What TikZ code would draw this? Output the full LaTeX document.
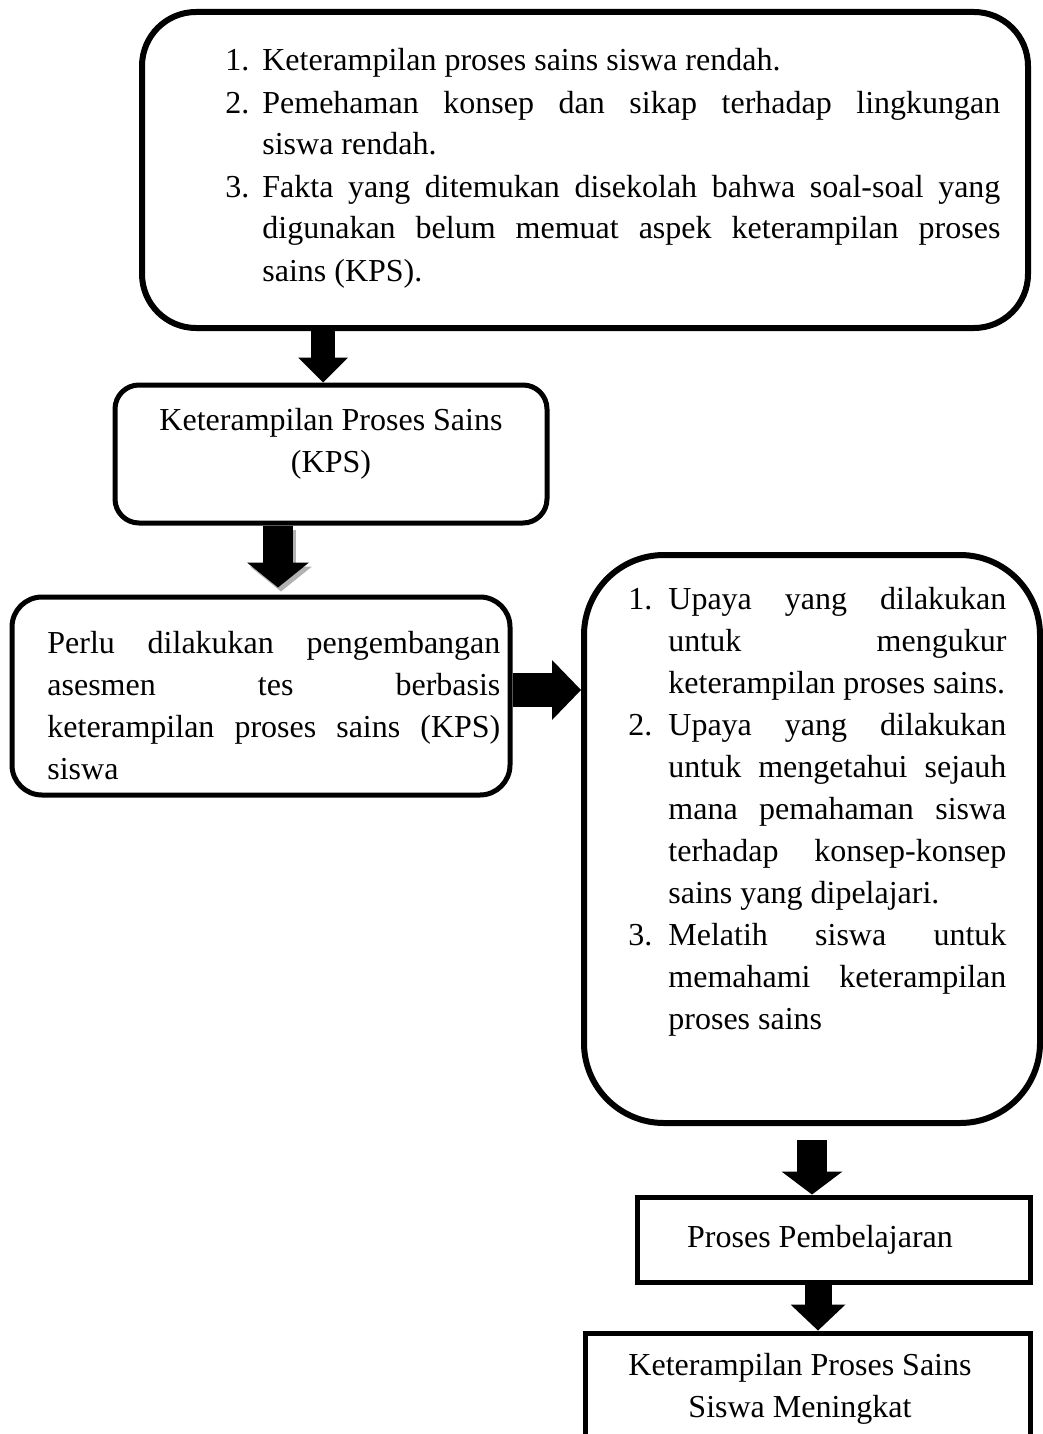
\documentclass[tikz,border=0pt]{standalone}
\usepackage{fontspec}
\setmainfont{Liberation Serif}
\usetikzlibrary{arrows.meta,calc}
\tolerance=10000
\hyphenpenalty=10000
\exhyphenpenalty=10000
\newcommand{\numitem}[3][20pt]{\hangindent=#1\hangafter=1\noindent\makebox[#1][l]{#2}#3\par}

\begin{document}
\begin{tikzpicture}[x=0.5pt, y=-0.5pt,
  frame/.style={draw, line width=2.5pt, inner sep=0pt},
  sized/.style 2 args={minimum width=#1, minimum height=#2},
  txt/.style={inner sep=0pt, align=justify, font=\fontsize{16pt}{21pt}\selectfont},
  fat/.style n args={3}{line width=#1, -{Triangle[width=#2, length=#3, line width=0pt]}}]
\useasboundingbox (0,0) rectangle (1043,1434);
\clip (0,0) rectangle (1043,1434);
\node[frame, sized={443pt}{158pt}, rounded corners=27pt, line width=3pt] (masalah) at (585,170) {};
\node[frame, sized={216pt}{69pt}, rounded corners=12pt] (kps) at (331,454) {};
\node[frame, sized={249pt}{99pt}, rounded corners=15pt] (perlu) at (261,696) {};
\node[frame, sized={228pt}{284pt}, rounded corners=40pt, line width=3pt] (upaya) at (812,839) {};
\node[frame, sized={196.5pt}{42.5pt}] (proses) at (833.5,1239.5) {};
\node[frame, sized={222.5pt}{71pt}] (meningkat) at (807.5,1404) {};
\node[txt, text width=387.5pt, anchor=base west] (masalah-t) at (225,71) {%
\numitem[18.5pt]{1.}{Keterampilan proses sains siswa rendah.}
\numitem[18.5pt]{2.}{Pemehaman konsep dan sikap terhadap lingkungan\linebreak siswa rendah.}
\numitem[18.5pt]{3.}{Fakta yang ditemukan disekolah bahwa soal-soal yang\linebreak digunakan belum memuat aspek keterampilan proses\linebreak sains (KPS).}};
\node[txt, text width=216pt, align=flush center, anchor=base] (kps-t) at (331,430) {Keterampilan Proses Sains\\(KPS)};
\node[txt, text width=226.5pt, anchor=base west] (perlu-t) at (47,653) {Perlu dilakukan pengembangan\linebreak asesmen tes berbasis\linebreak keterampilan proses sains (KPS)\linebreak siswa};
\node[txt, text width=189pt, anchor=base west] (upaya-t) at (628,609) {%
\numitem{1.}{Upaya yang dilakukan\linebreak untuk mengukur\linebreak keterampilan proses sains.}
\numitem{2.}{Upaya yang dilakukan\linebreak untuk mengetahui sejauh\linebreak mana pemahaman siswa\linebreak terhadap konsep-konsep\linebreak sains yang dipelajari.}
\numitem{3.}{Melatih siswa untuk\linebreak memahami keterampilan\linebreak proses sains}};
\node[txt, anchor=base] (proses-t) at (820,1247) {Proses Pembelajaran};
\node[txt, text width=222.5pt, align=flush center, anchor=base] (meningkat-t) at (800,1375) {Keterampilan Proses Sains\\Siswa Meningkat};
\draw[fat={12pt}{25pt}{12.5pt}] ([xshift=-4pt]kps.north |- masalah.south) -- ([xshift=-4pt]kps.north);
\draw[fat={15pt}{31pt}{12.5pt}, gray!60] ($([xshift=8.5pt]perlu.north |- kps.south)+(1.5pt,-2pt)$) -- ($(perlu.north)+(10pt,1.5pt)$);
\draw[fat={15pt}{31pt}{12.5pt}] ([xshift=8.5pt]perlu.north |- kps.south) -- ($(perlu.north)+(8.5pt,3.5pt)$);
\draw[fat={17pt}{30pt}{14.5pt}] ([yshift=3pt]perlu.east) -- ([yshift=3pt]perlu.east -| upaya.west);
\draw[fat={15pt}{30.5pt}{11.5pt}] ([yshift=-7pt]upaya.south) -- (upaya.south |- proses.north);
\draw[fat={13.5pt}{27.5pt}{13pt}] ([xshift=-7.75pt]proses.south) -- ([xshift=-7.75pt]proses.south |- meningkat.north);
\end{tikzpicture}
\end{document}
